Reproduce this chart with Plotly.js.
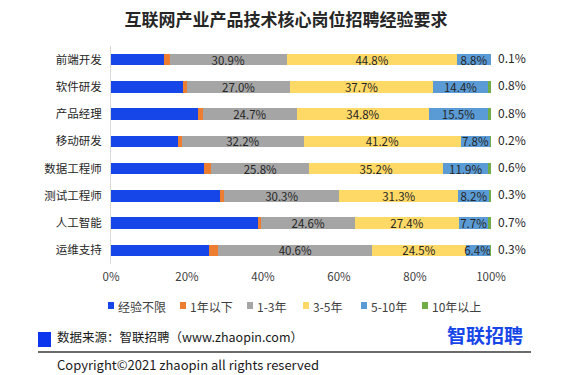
<!DOCTYPE html>
<html>
<head>
<meta charset="utf-8">
<script src="https://cdn.plot.ly/plotly-3.0.1.min.js"></script>
<style>html,body{margin:0;padding:0;background:#fff;}#chart{width:572px;height:375px;}</style>
</head>
<body>
<div id="chart"></div>
<script>
const categories = ['前端开发','软件研发','产品经理','移动研发','数据工程师','测试工程师','人工智能','运维支持'];
const seriesNames = ['经验不限','1年以下','1-3年','3-5年','5-10年','10年以上'];
const unlimited = [14.0,19.0,22.9,17.7,24.6,28.6,38.8,25.9];
const under1 = [1.4,1.1,1.3,0.9,1.8,1.2,0.8,2.3];
const y1to3 = [30.9,27.0,24.7,32.2,25.8,30.3,24.6,40.6];
const y3to5 = [44.8,37.7,34.8,41.2,35.2,31.3,27.4,24.5];
const y5to10 = [8.8,14.4,15.5,7.8,11.9,8.2,7.7,6.4];
const over10 = [0.1,0.8,0.8,0.2,0.6,0.3,0.7,0.3];
const xTicks = [0,20,40,60,80,100];
const xTickLabels = ['0%','20%','40%','60%','80%','100%'];

const seriesValues = [unlimited, under1, y1to3, y3to5, y5to10, over10];
const colors = ['#1746E8','#ED7D31','#A5A5A5','#FFD966','#5B9BD5','#70AD47'];
const insideLabel = [false,false,true,true,true,false];

const FONT = '"Noto Sans CJK SC", "Noto Sans", sans-serif';
const W = 572, H = 375;
const M = {l:111, r:81, t:46, b:111};
const PW = W - M.l - M.r, PH = H - M.t - M.b;
const px = x => (x - M.l) / PW;
const py = y => (H - M.b - y) / PH;

const traces = seriesValues.map((vals, i) => {
  const t = {
    type: 'bar', orientation: 'h', name: seriesNames[i],
    y: categories, x: vals,
    marker: {color: colors[i], line: {width: 0}},
    showlegend: false, hoverinfo: 'x+name',
    constraintext: 'none', cliponaxis: false
  };
  if (insideLabel[i]) {
    t.text = vals.map(v => v.toFixed(1) + '%');
    t.textposition = 'inside';
    t.insidetextanchor = 'middle';
    t.textfont = {family: FONT, size: 11.5, color: '#262626'};
    t.insidetextfont = {family: FONT, size: 11.5, color: '#262626'};
  } else {
    t.textposition = 'none';
  }
  return t;
});

const shapes = [];
const annotations = [];

// labels for the last series, placed just past the end of each stacked bar
categories.forEach((c, k) => {
  const total = Math.round(seriesValues.reduce((s, arr) => s + arr[k], 0) * 10) / 10;
  annotations.push({xref:'x', yref:'y', x: Math.min(total, 100), y: c, xanchor:'left', yanchor:'middle',
    xshift: 5, yshift: 2, showarrow:false, text: over10[k].toFixed(1) + '%',
    font:{family:FONT, size:12, color:'#262626'}});
});

// custom legend
const legendX = [108,180,247,303,361,422];
seriesNames.forEach((n, i) => {
  shapes.push({type:'rect', xref:'paper', yref:'paper',
    x0: px(legendX[i]), x1: px(legendX[i]+6), y0: py(309), y1: py(302),
    fillcolor: colors[i], line:{width:0}});
  annotations.push({xref:'paper', yref:'paper', x: px(legendX[i]+8), y: py(306),
    xanchor:'left', yanchor:'middle', showarrow:false, text:n,
    font:{family:FONT, size:12, color:'#404040'}});
});
// footer
shapes.push({type:'rect', xref:'paper', yref:'paper', x0:px(38), x1:px(51), y0:py(347), y1:py(332),
  fillcolor:'#0B36EE', line:{width:0}});
shapes.push({type:'line', xref:'paper', yref:'paper', x0:px(38), x1:px(531), y0:py(352), y1:py(352),
  line:{color:'#3a3a3a', width:1.5}});
annotations.push({xref:'paper', yref:'paper', x:px(55), y:py(336), xanchor:'left', yanchor:'middle',
  showarrow:false, text:'数据来源：智联招聘（www.zhaopin.com）', font:{family:FONT, size:12.5, color:'#1a1a1a'}});
annotations.push({xref:'paper', yref:'paper', x:px(55), y:py(364), xanchor:'left', yanchor:'middle',
  showarrow:false, text:'Copyright©2021 zhaopin all rights reserved', font:{family:FONT, size:13, color:'#1a1a1a'}});
annotations.push({xref:'paper', yref:'paper', x:px(485), y:py(334), xanchor:'center', yanchor:'middle',
  showarrow:false, text:'<b>智联招聘</b>', font:{family:FONT, size:19, color:'#1746E8'}});

const layout = {
  width: W, height: H,
  margin: M,
  paper_bgcolor: '#fff', plot_bgcolor: '#fff',
  barmode: 'stack', bargap: 0.58,
  title: {text:'<b>互联网产业产品技术核心岗位招聘经验要求</b>', x:0.5, xanchor:'center', y:1-20/H, yanchor:'middle',
    font:{family:FONT, size:17, color:'#262626'}},
  xaxis: {range:[0,100], tickmode:'array', tickvals:xTicks, ticktext:xTickLabels, showgrid:false, zeroline:false, showline:false,
    ticks:'', ticklabelstandoff:4, tickfont:{family:FONT, size:11.5, color:'#404040'}, fixedrange:true},
  yaxis: {autorange:'reversed', showgrid:false, zeroline:false, showline:true, linecolor:'#D9D9D9', linewidth:1,
    ticks:'', ticklabelstandoff:6, tickfont:{family:FONT, size:11.5, color:'#262626'}, fixedrange:true},
  shapes: shapes,
  annotations: annotations,
  showlegend: false
};

Plotly.newPlot('chart', traces, layout, {displayModeBar:false, staticPlot:true});
</script>
</body>
</html>
